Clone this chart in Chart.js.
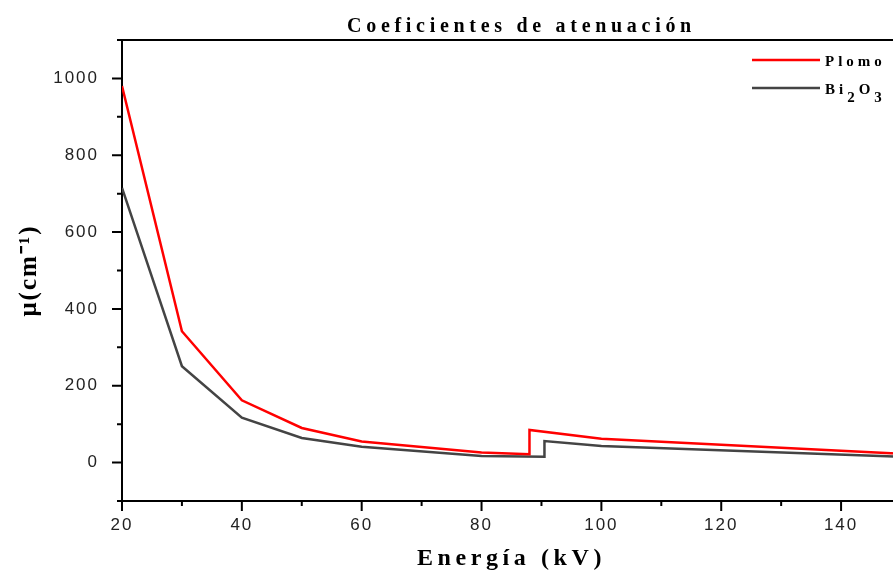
<!DOCTYPE html>
<html lang="es">

<head>
    <title>Coeficientes de atenuación</title>
    <meta charset="utf-8">
    <script src="https://cdn.jsdelivr.net/npm/chart.js"></script>
    <style>
        html, body { margin: 0; padding: 0; background: #fff; overflow: hidden; }
        #wrap { position: relative; width: 905px; height: 572px; }
    </style>
</head>

<body>
    <div id="wrap">
        <canvas id="muChart"></canvas>
    </div>

    <script>
        // datos
        const energiaPlomo = [20, 30, 40, 50, 60, 80, 88, 88, 100, 150];
        const muPlomo = [980, 342, 162, 90, 55, 26, 22, 85, 62, 23];
        const energiaBi2O3 = [20, 30, 40, 50, 60, 80, 90.5, 90.5, 100, 150];
        const muBi2O3 = [715, 251, 117, 64, 41, 17, 15.5, 56, 43, 15.5];
        const etiquetasX = [20, 40, 60, 80, 100, 120, 140];
        const etiquetasY = [0, 200, 400, 600, 800, 1000];
        const series = ['Plomo', 'Bi2O3'];
        const colores = ['#ff0000', '#444444'];

        const toPoints = (xs, ys) => xs.map((x, i) => ({ x: x, y: ys[i] }));

        // espaciado entre letras (segun tamaño de fuente) como en la figura original
        const spacingBold = { 15: '4px', 20: '4.7px', 24: '4.6px', 25: '2px' };

        const letterSpacing = {
            id: 'letterSpacing',
            afterLayout(chart) {
                // el titulo esta algo desplazado a la derecha en el original
                chart.titleBlock.left += 10;
                chart.titleBlock.right += 10;
            },
            beforeDraw(chart) {
                const ctx = chart.ctx;
                if (ctx.spaced) return;
                const fill = ctx.fillText;
                ctx.fillText = function (text, x, y, maxWidth) {
                    const size = parseFloat((this.font.match(/([\d.]+)px/) || [0, 16])[1]);
                    if (this.font.includes('bold')) {
                        this.letterSpacing = spacingBold[size] || '4px';
                    } else {
                        this.letterSpacing = '2px';
                    }
                    if (maxWidth === undefined) return fill.call(this, text, x, y);
                    return fill.call(this, text, x, y, maxWidth);
                };
                ctx.spaced = true;
            }
        };

        // ticks mayores/menores, borde superior y leyenda
        const axisMarks = {
            id: 'axisMarks',
            afterDraw(chart) {
                const { ctx, chartArea: a, scales: { x, y } } = chart;
                ctx.save();
                ctx.strokeStyle = '#000';
                ctx.lineWidth = 2;
                ctx.beginPath();
                x.ticks.forEach(t => {
                    const px = x.getPixelForValue(t.value);
                    const len = t.value % 20 === 0 ? 10 : 5;
                    ctx.moveTo(px, a.bottom);
                    ctx.lineTo(px, a.bottom + len);
                });
                y.ticks.forEach(t => {
                    const py = y.getPixelForValue(t.value);
                    const len = t.value % 200 === 0 ? 10 : 5;
                    ctx.moveTo(a.left, py);
                    ctx.lineTo(a.left - len, py);
                });
                ctx.moveTo(a.left - 1, a.top);
                ctx.lineTo(a.right, a.top);
                ctx.stroke();

                // leyenda
                ctx.font = 'bold 15px "Liberation Serif"';
                ctx.letterSpacing = '4px';
                ctx.textBaseline = 'alphabetic';
                ctx.fillStyle = '#000';
                chart.data.datasets.forEach((ds, i) => {
                    const ly = 60 + i * 28;
                    ctx.strokeStyle = ds.borderColor;
                    ctx.lineWidth = 2.5;
                    ctx.beginPath();
                    ctx.moveTo(752, ly);
                    ctx.lineTo(820, ly);
                    ctx.stroke();
                    let tx = 825;
                    for (const ch of ds.label) {
                        const sub = /\d/.test(ch) ? 8 : 0;
                        ctx.fillText(ch, tx, ly + 6 + sub);
                        tx += ctx.measureText(ch).width;
                    }
                });
                ctx.restore();
            }
        };

        const ctx = document.getElementById('muChart').getContext('2d');

        new Chart(ctx, {
            type: 'line',
            data: {
                datasets: [{
                    label: series[0],
                    data: toPoints(energiaPlomo, muPlomo),
                    borderColor: colores[0],
                    backgroundColor: colores[0],
                    borderWidth: 2.5,
                    pointRadius: 0,
                    tension: 0
                }, {
                    label: series[1],
                    data: toPoints(energiaBi2O3, muBi2O3),
                    borderColor: colores[1],
                    backgroundColor: colores[1],
                    borderWidth: 2.5,
                    pointRadius: 0,
                    tension: 0
                }]
            },
            options: {
                responsive: true,
                maintainAspectRatio: false,
                animation: false,
                layout: { padding: 0 },
                plugins: {
                    legend: { display: false },
                    tooltip: { enabled: false },
                    title: {
                        display: true,
                        text: 'Coeficientes de atenuación',
                        fullSize: false,
                        color: '#000',
                        font: { family: '"Liberation Serif"', size: 20, weight: 'bold', lineHeight: 1.1 },
                        padding: { top: 16, bottom: 2 }
                    }
                },
                scales: {
                    x: {
                        type: 'linear',
                        min: 20,
                        max: 150,
                        afterFit: (s) => { s.height = 71; },
                        grid: { display: false, drawTicks: true, tickLength: 10 },
                        border: { display: true, color: '#000', width: 2 },
                        ticks: {
                            stepSize: 10,
                            padding: 4,
                            color: '#222',
                            maxRotation: 0,
                            autoSkip: false,
                            font: { family: '"Liberation Sans"', size: 17 },
                            callback: (v) => etiquetasX.includes(v) ? v : ''
                        },
                        title: {
                            display: true,
                            text: 'Energía (kV)',
                            color: '#000',
                            font: { family: '"Liberation Serif"', size: 24, weight: 'bold' },
                            padding: { top: 0, bottom: -1 }
                        }
                    },
                    y: {
                        min: -100,
                        max: 1100,
                        afterFit: (s) => { s.width = 122; },
                        grid: { display: false, drawTicks: true, tickLength: 10 },
                        border: { display: true, color: '#000', width: 2 },
                        ticks: {
                            stepSize: 100,
                            padding: 13,
                            color: '#222',
                            autoSkip: false,
                            font: { family: '"Liberation Sans"', size: 17 },
                            callback: (v) => etiquetasY.includes(v) ? v : ''
                        },
                        title: {
                            display: true,
                            text: 'μ(cm⁻¹)',
                            color: '#000',
                            font: { family: '"Liberation Serif"', size: 25, weight: 'bold' },
                            padding: { top: 15, bottom: 0 }
                        }
                    }
                }
            },
            plugins: [letterSpacing, axisMarks]
        });
    </script>
</body>

</html>
